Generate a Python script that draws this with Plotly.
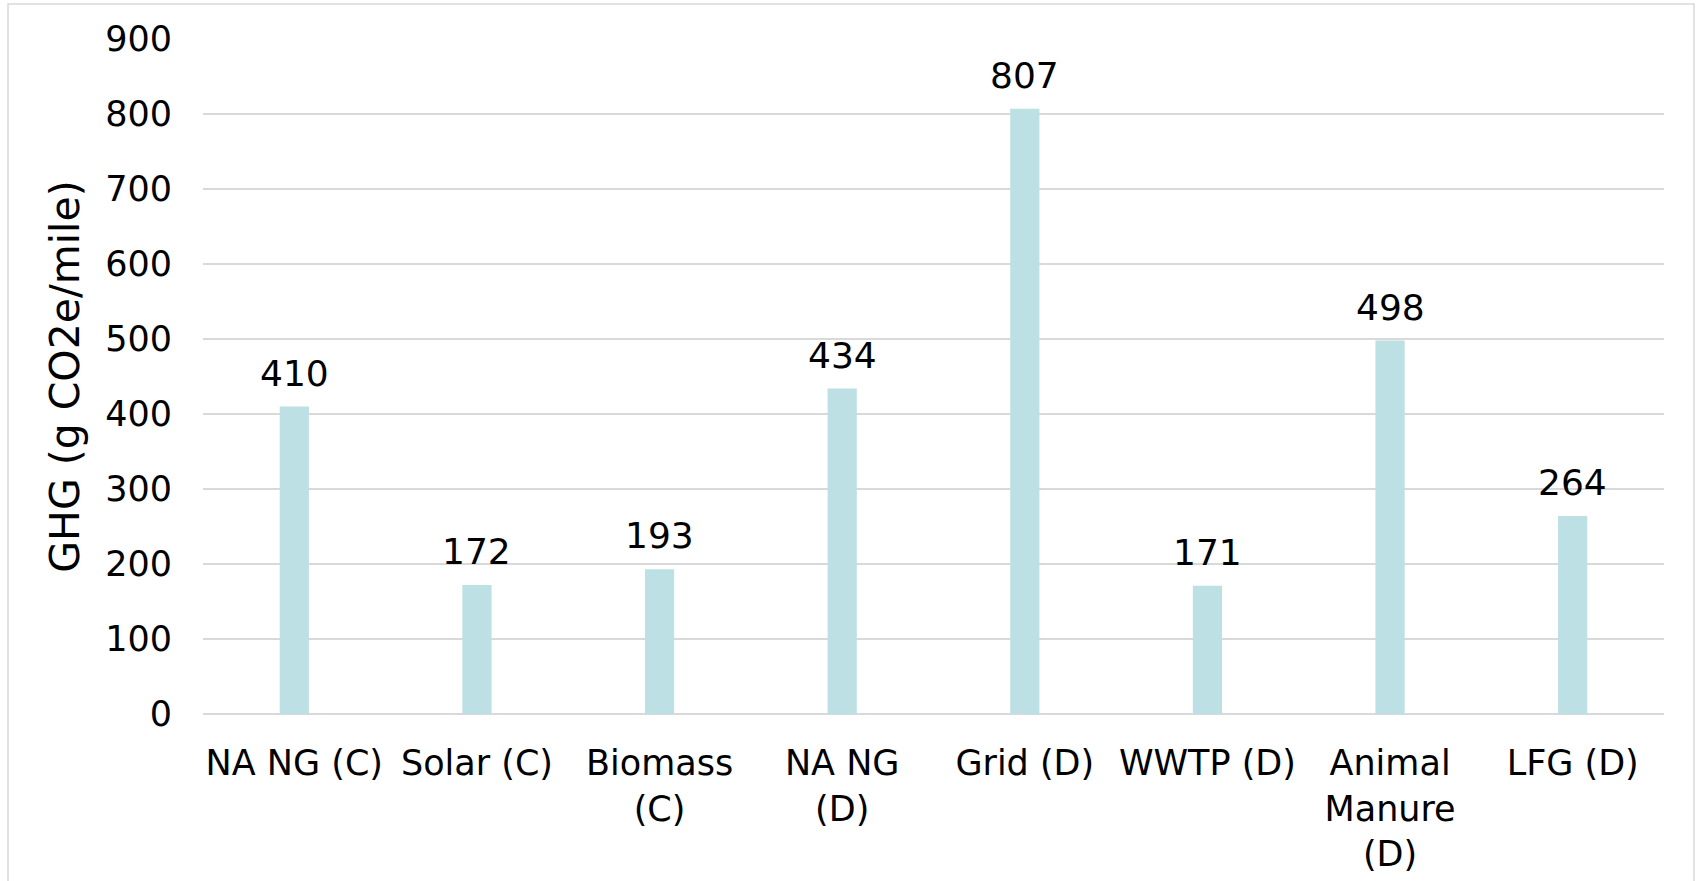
import plotly.graph_objects as go

# Emissions per mile for each fuel pathway
categories = [
    "NA NG (C)",
    "Solar (C)",
    "Biomass<br>(C)",
    "NA NG<br>(D)",
    "Grid (D)",
    "WWTP (D)",
    "Animal<br>Manure<br>(D)",
    "LFG (D)",
]
ghg_values = [410, 172, 193, 434, 807, 171, 498, 264]
y_ticks = [0, 100, 200, 300, 400, 500, 600, 700, 800, 900]

FONT = "DejaVu Sans"
BAR_COLOR = "#BCE0E3"
GRID_COLOR = "#D9D9D9"

W, H = 1696, 881
M_L, M_R, M_T, M_B = 203, 32, 39, 167
plot_w = W - M_L - M_R
plot_h = H - M_T - M_B

fig = go.Figure()
fig.add_trace(
    go.Bar(
        x=categories,
        y=ghg_values,
        marker=dict(color=BAR_COLOR, line=dict(width=0)),
        hoverinfo="x+y",
    )
)

# value labels above each bar
for cat, val in zip(categories, ghg_values):
    fig.add_annotation(
        x=cat,
        y=val,
        text=str(val),
        showarrow=False,
        xref="x",
        yref="y",
        yanchor="bottom",
        yshift=11,
        font=dict(family=FONT, size=36, color="#000000"),
    )

# light frame around the chart area
def px_to_paper_x(px):
    return (px - M_L) / plot_w

def px_to_paper_y(py):
    return (H - M_B - py) / plot_h

fig.add_shape(
    type="rect",
    xref="paper",
    yref="paper",
    x0=px_to_paper_x(8),
    x1=px_to_paper_x(1694),
    y0=px_to_paper_y(900),
    y1=px_to_paper_y(4),
    line=dict(color=GRID_COLOR, width=1.5),
    fillcolor="rgba(0,0,0,0)",
    layer="below",
)

fig.update_layout(
    width=W,
    height=H,
    margin=dict(l=M_L, r=M_R, t=M_T, b=M_B, autoexpand=False),
    paper_bgcolor="#FFFFFF",
    plot_bgcolor="#FFFFFF",
    font=dict(family=FONT, size=35, color="#000000"),
    bargap=0.84,
    showlegend=False,
    xaxis=dict(
        type="category",
        showgrid=False,
        showline=False,
        zeroline=False,
        ticks="",
        tickfont=dict(family=FONT, size=35, color="#000000"),
        ticklabelstandoff=25,
    ),
    yaxis=dict(
        range=[0, 900],
        tickvals=y_ticks,
        showgrid=True,
        gridcolor=GRID_COLOR,
        gridwidth=1.5,
        zeroline=True,
        zerolinecolor=GRID_COLOR,
        zerolinewidth=1.5,
        showline=False,
        ticks="",
        tickfont=dict(family=FONT, size=35, color="#000000"),
        ticklabelstandoff=30,
        title=dict(
            text="GHG (g CO2e/mile)",
            font=dict(family=FONT, size=41, color="#000000"),
            standoff=12,
        ),
    ),
)

fig.write_html("out.html")
